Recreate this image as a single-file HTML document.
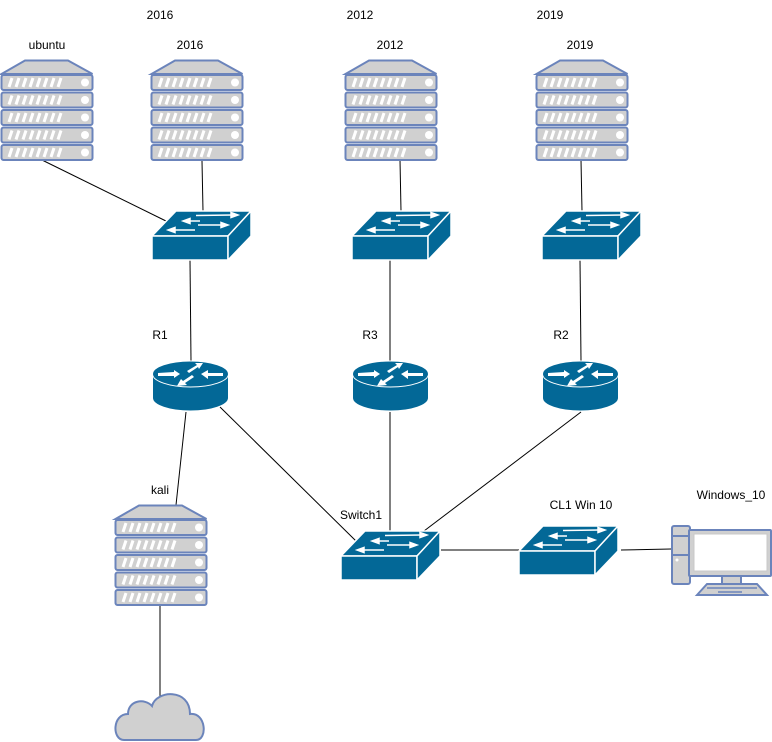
<!DOCTYPE html>
<html><head><meta charset="utf-8"><style>
html,body{margin:0;padding:0;background:#fff;}
svg{display:block;}
text{font-family:"Liberation Sans",sans-serif;font-size:12px;fill:#000;text-anchor:middle;}
</style></head><body>
<svg width="772" height="742" viewBox="0 0 772 742" xmlns="http://www.w3.org/2000/svg">
<defs>
<g id="unit">
<rect x="0.5" y="0" width="91" height="15" rx="2" fill="#d0d0d0" stroke="#6b84bb" stroke-width="2"/>
<g stroke="#fff" stroke-width="3">
<line x1="8" y1="12" x2="11" y2="3"/><line x1="15" y1="12" x2="18" y2="3"/><line x1="22" y1="12" x2="25" y2="3"/>
<line x1="29" y1="12" x2="32" y2="3"/><line x1="36" y1="12" x2="39" y2="3"/><line x1="43" y1="12" x2="46" y2="3"/>
<line x1="50" y1="12" x2="53" y2="3"/><line x1="57" y1="12" x2="60" y2="3"/>
</g>
<circle cx="84" cy="7.5" r="4" fill="#fff"/>
</g>
<g id="server">
<polygon points="0.5,14 24,0.5 67,0.5 91.5,14" fill="#d0d0d0" stroke="#6b84bb" stroke-width="2"/>
<use href="#unit" y="15"/><use href="#unit" y="32.5"/><use href="#unit" y="50"/><use href="#unit" y="67.5"/><use href="#unit" y="85"/>
</g>
<g id="switch">
<polygon points="0,25 24,0 99,0 76,25" fill="#036897" stroke="#fff" stroke-width="1.5"/>
<rect x="0" y="25" width="76" height="24" fill="#036897" stroke="#fff" stroke-width="1.5"/>
<polygon points="76,25 99,0 99,25 76,49" fill="#036897" stroke="#fff" stroke-width="1.5"/>
<g stroke="#fff" stroke-width="1.5" fill="#fff">
<line x1="44" y1="4.5" x2="80" y2="4"/><polygon points="79,1.5 86,4 79,6.5"/>
<line x1="37" y1="10" x2="48" y2="10"/><polygon points="38,7.5 31,10 38,12.5"/>
<line x1="46" y1="14" x2="70" y2="14"/><polygon points="69,11.5 76,14 69,16.5"/>
<line x1="22" y1="19" x2="43" y2="19"/><polygon points="23,16.5 16,19 23,21.5"/>
</g>
</g>
<g id="router">
<path d="M0.5,13 L0.5,37 A38,13 0 0 0 76.5,37 L76.5,13 Z" fill="#036897" stroke="#fff"/>
<ellipse cx="38.5" cy="13" rx="38" ry="13" fill="#036897" stroke="#fff"/>
<g fill="#fff">
<polygon points="6,12 22,11 22,9 28,13 22,17 22,15 6,15"/>
<polygon points="35,10 45,4 43,2 51,2 47,8 46,6 37,12"/>
<polygon points="71,15 56,15 56,18 49,13 56,9 56,12 71,12"/>
<polygon points="42,16 33,22 35,24 25,25 29,18 31,20 40,14"/>
</g>
</g>
</defs>
<g stroke="#000" stroke-width="1">
<line x1="42" y1="160" x2="168" y2="222"/>
<line x1="202" y1="161" x2="203" y2="211"/>
<line x1="190" y1="260" x2="191" y2="361"/>
<line x1="186" y1="412" x2="176" y2="505"/>
<line x1="220" y1="407" x2="356" y2="541"/>
<line x1="390" y1="412" x2="390" y2="545"/>
<line x1="581" y1="412" x2="424" y2="531"/>
<line x1="441" y1="550" x2="519" y2="550"/>
<line x1="621" y1="550" x2="671" y2="549"/>
<line x1="400" y1="160" x2="401" y2="211"/>
<line x1="390" y1="260" x2="390" y2="361"/>
<line x1="581" y1="160" x2="582" y2="211"/>
<line x1="580" y1="260" x2="581" y2="361"/>
<line x1="160" y1="605" x2="160" y2="698"/>
</g>
<use href="#server" x="1" y="60"/>
<use href="#server" x="151" y="60"/>
<use href="#server" x="345" y="60"/>
<use href="#server" x="536" y="60"/>
<use href="#server" x="115" y="505"/>
<use href="#switch" x="152" y="211"/>
<use href="#switch" x="352" y="211"/>
<use href="#switch" x="542" y="211"/>
<use href="#switch" x="341" y="531"/>
<use href="#switch" x="519" y="526"/>
<use href="#router" x="152" y="361"/>
<use href="#router" x="352" y="361"/>
<use href="#router" x="542" y="361"/>
<path d="M124,740 C112,740 112,714 128,714 C128,700 145,698 152,706 C156,690 190,688 190,714 C206,712 208,740 196,740 Z" fill="#d0d0d0" stroke="#6b84bb" stroke-width="2"/>
<g stroke="#6b84bb" stroke-width="2" fill="#d0d0d0">
<rect x="672" y="526" width="18" height="58" rx="2"/>
<line x1="672" y1="536" x2="690" y2="536"/><line x1="672" y1="555" x2="690" y2="555"/>
<rect x="722" y="575" width="19" height="9"/>
<polygon points="697,595 707,584 757,584 767,595"/>
<rect x="689" y="530" width="82" height="46" rx="1"/>
<rect x="694" y="534" width="73" height="37" fill="#fff" stroke="#c8c8c8" stroke-width="1"/>
</g>
<circle cx="677" cy="560" r="1.5" fill="#fff"/>
<g stroke="#6b84bb" stroke-width="1.5"><line x1="707" y1="588" x2="757" y2="588"/><line x1="718" y1="592" x2="742" y2="592"/></g>
<text x="160" y="19">2016</text>
<text x="47" y="49">ubuntu</text>
<text x="190" y="49">2016</text>
<text x="360" y="19">2012</text>
<text x="390" y="49">2012</text>
<text x="550" y="19">2019</text>
<text x="580" y="49">2019</text>
<text x="160" y="339">R1</text>
<text x="370" y="339">R3</text>
<text x="561" y="339">R2</text>
<text x="160" y="494">kali</text>
<text x="361" y="519">Switch1</text>
<text x="581" y="509">CL1 Win 10</text>
<text x="731" y="499">Windows_10</text>
</svg>
</body></html>
